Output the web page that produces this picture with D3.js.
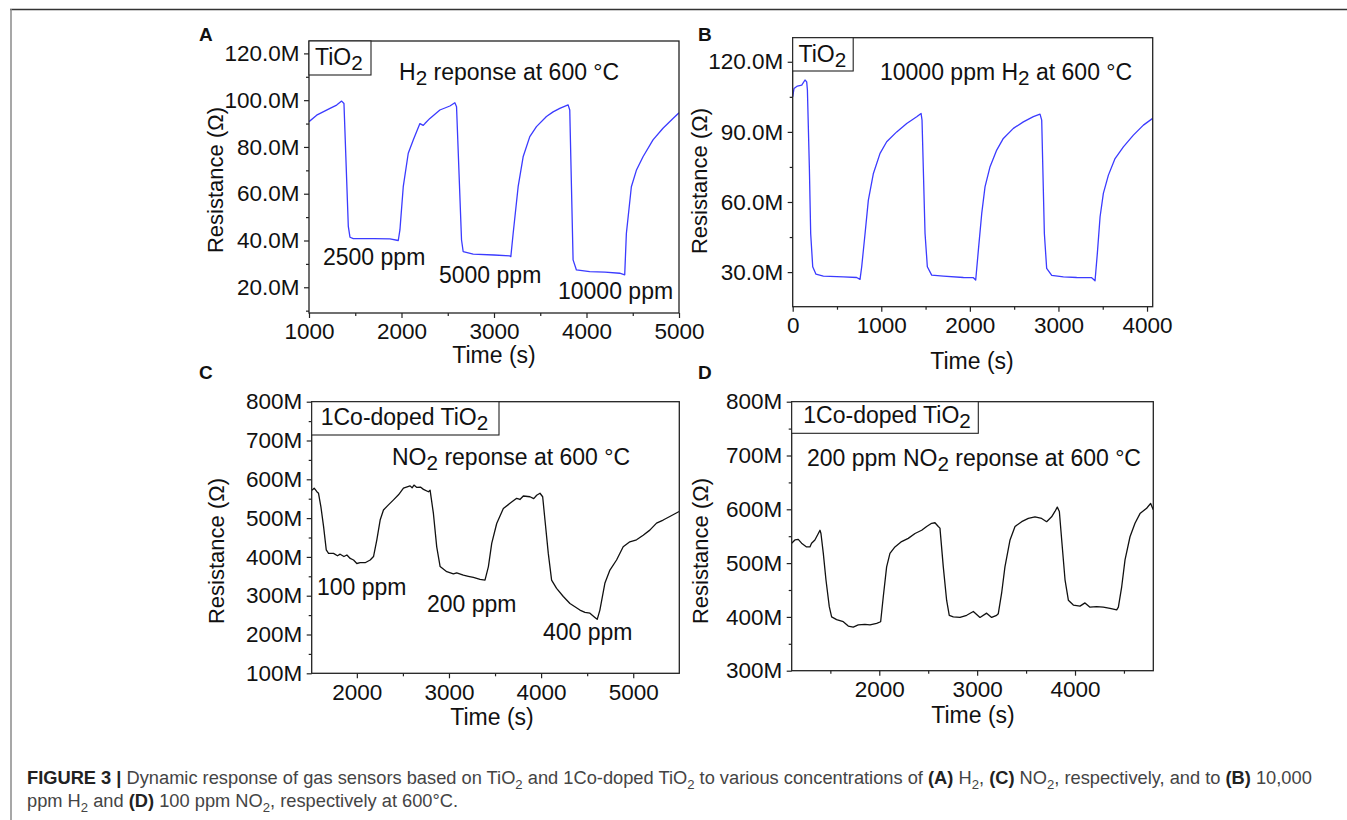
<!DOCTYPE html>
<html>
<head>
<meta charset="utf-8">
<script src="https://cdn.jsdelivr.net/npm/d3@7"></script>
<style>
  body { margin: 0; background: #fff; }
  svg text { font-family: "Liberation Sans", Arial, Helvetica, sans-serif; white-space: pre; }
</style>
</head>
<body>
<div id="chart"></div>
<script>
// ---- data (time in s, resistance in MOhm) ----
const timeA = [1000,1083,1227,1299,1353,1378,1425,1443,1479,1700,1875,1965,1983,2019,2073,2127,2199,2235,2253,2307,
  2415,2523,2577,2595,2649,2667,2775,3000,3171,3182,3207,3261,3315,3387,3459,3567,3639,3711,3801,3819,
  3855,3891,4035,4200,4359,4413,4431,4485,4539,4611,4719,4827,4935,5000];
const resA = [90.8,93.6,96.5,97.9,99.6,98.6,46,41.4,40.8,40.8,40.7,40,44.5,63,77.3,83,90,89.2,90,92.2,
  95.8,97.5,98.9,97.2,40.2,35.2,34.2,33.8,33.4,33.1,43,63,75.8,84.4,88.7,93,95,96.5,98,95.8,
  31.7,27.4,26.7,26.5,26,25.3,43,63,70,75.8,83,88,92.2,94.6];

const timeB = [0,15,53,102,139,158,166,188,203,226,263,346,572,722,760,779,817,854,911,986,
  1061,1174,1287,1400,1449,1460,1494,1520,1569,1701,1927,2040,2066,2096,2134,2171,2228,2303,2378,2491,
  2604,2717,2792,2811,2841,2867,2924,3056,3206,3375,3413,3439,3470,3507,3564,3639,3733,3846,3959,4064];
const resB = [105,108.6,109.6,110,112.2,111.4,107.9,75,46.5,32.3,29.1,28.3,28,27.7,26.9,32.3,46.5,60.8,72.2,80.8,
  85.8,90,93.6,96.5,97.9,95,46.5,32.3,28.7,28.3,27.7,27.6,26.6,39.4,55.1,66.5,75.1,82.2,87.2,91.5,
  94.3,96.5,97.6,95,46.5,31.6,28.6,28,27.7,27.6,26.3,38,53.7,63.7,71.5,78.6,83.6,88.6,92.9,95.8];

const timeC = [1512,1537,1566,1584,1610,1639,1668,1693,1747,1790,1819,1860,1892,1928,1964,2000,2036,2090,2145,2181,
  2217,2253,2289,2343,2398,2452,2506,2578,2600,2620,2651,2690,2723,2777,2795,2831,2867,2904,2976,3048,
  3084,3156,3210,3265,3337,3391,3428,3464,3518,3590,3662,3735,3770,3807,3879,3920,3952,3988,4017,4042,
  4078,4114,4168,4241,4313,4421,4476,4530,4584,4609,4638,4692,4747,4819,4891,4963,5036,5108,5180,5253,
  5325,5397,5498];
const resC = [572,577,568,564,529,478,418,409,409,403,407,401,405,396,392,383,385,385,392,401,
  444,495,521,534,547,560,577,583,578,585,579,580,574,568,572,512,426,375,362,356,
  359,353,350,347,342,340,375,435,486,525,538,551,548,557,555,550,559,564,555,495,
  409,340,319,298,280,263,257,255,244,239,263,332,366,392,426,439,444,456,469,487,
  495,504,517];

const timeD = [1104,1138,1172,1206,1257,1291,1308,1342,1377,1394,1404,1428,1455,1489,1513,1564,1632,1683,1734,1785,
  1853,1905,1973,2014,2041,2075,2109,2160,2228,2296,2365,2433,2484,2535,2569,2603,2620,2654,2688,2715,
  2756,2825,2893,2961,3029,3097,3148,3199,3216,3250,3284,3336,3387,3455,3523,3591,3659,3710,3761,3795,
  3819,3840,3864,3898,3932,3983,4051,4102,4153,4221,4289,4358,4426,4443,4477,4511,4562,4613,4664,4732,
  4773,4800];
const resD = [537,543,544,537,530,530,537,543,555,561,555,518,469,419,400,395,391,383,381,385,
  386,385,388,391,438,493,518,530,540,546,555,561,568,574,575,568,565,493,431,403,
  400,399,403,410,399,407,399,403,406,444,493,543,568,577,583,586,583,577,586,596,
  604,596,543,469,431,422,420,426,418,419,418,416,413,418,456,506,549,574,592,602,
  611,599];

// ---- axis ticks ----
const xTicksA = [1000,2000,3000,4000,5000], xMinorA = [1500,2500,3500,4500];
const yTicksA = [20,40,60,80,100,120], yMinorA = [10,30,50,70,90,110];
const xTicksB = [0,1000,2000,3000,4000], xMinorB = [500,1500,2500,3500];
const yTicksB = [30,60,90,120], yMinorB = [45,75,105];
const xTicksC = [2000,3000,4000,5000], xMinorC = [2500,3500,4500];
const yTicksC = [100,200,300,400,500,600,700,800], yMinorC = [150,250,350,450,550,650,750];
const xTicksD = [2000,3000,4000], xMinorD = [1500,2500,3500,4500];
const yTicksD = [300,400,500,600,700,800], yMinorD = [350,450,550,650,750];

const W = 1347, H = 820;
const svg = d3.select("#chart").append("svg").attr("width", W).attr("height", H);

// page frame
svg.append("line").attr("x1", 10).attr("x2", W).attr("y1", 9.5).attr("y2", 9.5)
  .attr("stroke", "#333").attr("stroke-width", 1.6);
svg.append("line").attr("x1", 11).attr("x2", 11).attr("y1", 9).attr("y2", H)
  .attr("stroke", "#8a8a8a").attr("stroke-width", 1.5);

// text with "_" subscript and "*" bold parts
function richText(sel, x, y, parts, size, opt = {}) {
  const subSize = opt.subSize || size * 0.9, shift = opt.shift || size * 0.22;
  const t = sel.append("text").attr("x", x).attr("y", y)
    .style("font-size", size + "px").attr("fill", opt.fill || "#111");
  if (opt.anchor) t.attr("text-anchor", opt.anchor);
  let down = false;
  parts.forEach(p => {
    let txt = p, sub = false, bold = false;
    if (p.startsWith("_")) { sub = true; txt = p.slice(1); }
    else if (p.startsWith("*")) { bold = true; txt = p.slice(1); }
    const ts = t.append("tspan").text(txt);
    if (sub) {
      ts.style("font-size", subSize + "px");
      if (!down) { ts.attr("dy", shift); down = true; }
    } else if (down) { ts.attr("dy", -shift); down = false; }
    if (bold) ts.style("font-weight", "bold").attr("fill", opt.boldFill || "#111");
  });
  return t;
}

const panels = [
  { letter: "A", lx: 199, ly: 41, left: 309, right: 679, top: 41, bottom: 313,
    xDom: [1000, 5000], yDom: [9, 125.3], time: timeA, res: resA, color: "#3b3bff",
    xT: xTicksA, xM: xMinorA, yT: yTicksA, yM: yMinorA, fmt: d => d.toFixed(1) + "M",
    ylab: [223, 180], xlab: [494, 363],
    box: { w: 62, h: 34, tx: 315, ty: 65, parts: ["TiO", "_2"] },
    notes: [[399, 80, ["H", "_2", " reponse at 600 °C"]], [323, 265, ["2500 ppm"]],
            [439, 283, ["5000 ppm"]], [558, 299, ["10000 ppm"]]] },
  { letter: "B", lx: 698, ly: 41, left: 792.7, right: 1152.7, top: 37.7, bottom: 306.7,
    xDom: [0, 4064], yDom: [15.2, 130.3], time: timeB, res: resB, color: "#3b3bff",
    xT: xTicksB, xM: xMinorB, yT: yTicksB, yM: yMinorB, fmt: d => d.toFixed(1) + "M",
    ylab: [707, 181], xlab: [972, 369],
    box: { w: 60.5, h: 33.3, tx: 798.5, ty: 62, parts: ["TiO", "_2"] },
    notes: [[880, 80, ["10000 ppm H", "_2", " at 600 °C"]]] },
  { letter: "C", lx: 199, ly: 379, left: 311.7, right: 679.3, top: 401.7, bottom: 673.3,
    xDom: [1510, 5500], yDom: [100, 800], time: timeC, res: resC, color: "#111",
    xT: xTicksC, xM: xMinorC, yT: yTicksC, yM: yMinorC, fmt: d => d + "M",
    ylab: [224, 551], xlab: [492, 725],
    box: { w: 187.3, h: 33.3, tx: 320.7, ty: 425, parts: ["1Co-doped TiO", "_2"] },
    notes: [[392, 465, ["NO", "_2", " reponse at 600 °C"]], [317, 595, ["100 ppm"]],
            [427, 612, ["200 ppm"]], [543, 640, ["400 ppm"]]] },
  { letter: "D", lx: 698, ly: 379, left: 791.7, right: 1153.3, top: 401.7, bottom: 670.7,
    xDom: [1105, 4800], yDom: [300, 800], time: timeD, res: resD, color: "#111",
    xT: xTicksD, xM: xMinorD, yT: yTicksD, yM: yMinorD, fmt: d => d + "M",
    ylab: [708, 551], xlab: [973, 723],
    box: { w: 186.6, h: 31.6, tx: 803.3, ty: 423.3, parts: ["1Co-doped TiO", "_2"] },
    notes: [[807, 466, ["200 ppm NO", "_2", " reponse at 600 °C"]]] }
];

panels.forEach((p, i) => {
  const w = p.right - p.left, h = p.bottom - p.top;
  const x = d3.scaleLinear().domain(p.xDom).range([0, w]);
  const y = d3.scaleLinear().domain(p.yDom).range([h, 0]);
  const g = svg.append("g").attr("transform", `translate(${p.left},${p.top})`);

  // clip + curve
  svg.append("clipPath").attr("id", "clip" + i)
    .append("rect").attr("width", w).attr("height", h);
  const line = d3.line().x(d => x(d[0])).y(d => y(d[1]));
  g.append("path").datum(d3.zip(p.time, p.res))
    .attr("clip-path", `url(#clip${i})`)
    .attr("fill", "none").attr("stroke", p.color).attr("stroke-width", 1.3)
    .attr("stroke-linejoin", "round").attr("d", line);

  // axes
  g.append("g").attr("transform", `translate(0,${h})`)
    .call(d3.axisBottom(x).tickValues(p.xT).tickSize(5).tickPadding(5.5)
      .tickFormat(d3.format("d")).tickSizeOuter(0));
  g.append("g").attr("transform", `translate(0,${h})`)
    .call(d3.axisBottom(x).tickValues(p.xM).tickSize(3).tickFormat("").tickSizeOuter(0));
  g.append("g")
    .call(d3.axisLeft(y).tickValues(p.yT).tickSize(5).tickPadding(4.5).tickFormat(p.fmt).tickSizeOuter(0));
  g.append("g")
    .call(d3.axisLeft(y).tickValues(p.yM).tickSize(3).tickFormat("").tickSizeOuter(0));
  g.selectAll(".domain").remove();
  g.selectAll(".tick line").attr("stroke", "#222").attr("stroke-width", 1.2);
  g.selectAll(".tick text").attr("fill", "#111").style("font-size", "22.5px")
    .style("font-family", '"Liberation Sans", Arial, sans-serif');

  // frame
  g.append("rect").attr("width", w).attr("height", h)
    .attr("fill", "none").attr("stroke", "#222").attr("stroke-width", 1.3);

  // label box
  g.append("rect").attr("width", p.box.w).attr("height", p.box.h)
    .attr("fill", "#fff").attr("stroke", "#222").attr("stroke-width", 1.1);
  richText(svg, p.box.tx, p.box.ty, p.box.parts, 23);

  p.notes.forEach(n => richText(svg, n[0], n[1], n[2], 23));

  // axis titles
  svg.append("text").attr("transform", `translate(${p.ylab[0]},${p.ylab[1]}) rotate(-90)`)
    .attr("text-anchor", "middle").style("font-size", "22px").attr("fill", "#111")
    .text("Resistance (Ω)");
  svg.append("text").attr("x", p.xlab[0]).attr("y", p.xlab[1])
    .attr("text-anchor", "middle").style("font-size", "23px").attr("fill", "#111")
    .text("Time (s)");

  svg.append("text").attr("x", p.lx).attr("y", p.ly)
    .style("font-size", "19px").style("font-weight", "bold").attr("fill", "#111")
    .text(p.letter);
});

// caption, scaled so the first line spans the same width as the original
const cap1 = ["*FIGURE 3 | ", "Dynamic response of gas sensors based on TiO", "_2", " and 1Co-doped TiO", "_2",
  " to various concentrations of ", "*(A)", " H", "_2", ", ", "*(C)", " NO", "_2", ", respectively, and to ",
  "*(B)", " 10,000"];
const cap2 = ["ppm H", "_2", " and ", "*(D)", " 100 ppm NO", "_2", ", respectively at 600°C."];
const capOpt = { subSize: 11.5, shift: 4, fill: "#444", boldFill: "#222" };
const probe = richText(svg, 27, 784, cap1, 16, capOpt);
const k = Math.min(1.15, Math.max(0.85, 1286 / (probe.node().getComputedTextLength() || 1286)));
probe.remove();
const capSize = 16 * k;
const capOpt2 = { subSize: 11.5 * k, shift: 4 * k, fill: "#444", boldFill: "#222" };
richText(svg, 27, 784, cap1, capSize, capOpt2);
richText(svg, 27, 807, cap2, capSize, capOpt2);
</script>
</body>
</html>
